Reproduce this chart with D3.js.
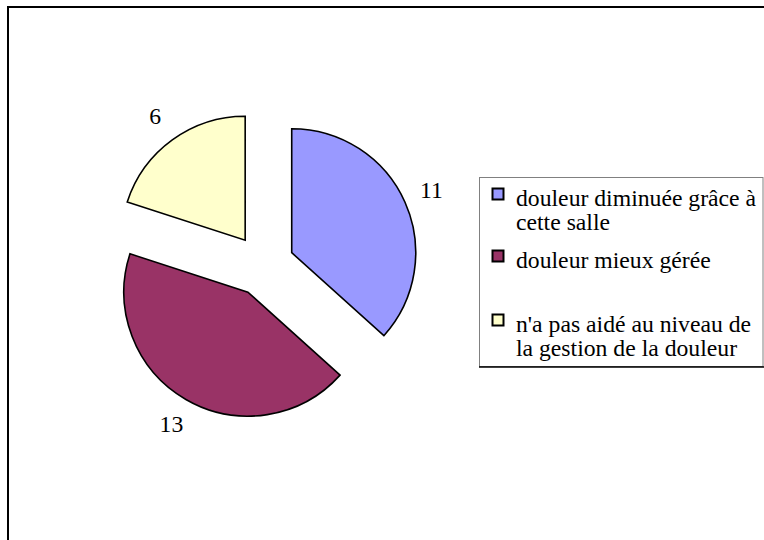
<!DOCTYPE html>
<html>
<head>
<meta charset="utf-8">
<script src="https://cdn.jsdelivr.net/npm/d3@7"></script>
<style>
  html, body { margin: 0; padding: 0; background: #ffffff; }
  svg { display: block; }
</style>
</head>
<body>
<svg id="chart" width="764" height="540"></svg>
<script>
// ---- Data ----
const categories = [
  "douleur diminuée grâce à cette salle",
  "douleur mieux gérée",
  "n'a pas aidé au niveau de la gestion de la douleur"
];
const values = [11, 13, 6];
const colors = ["#9999FF", "#993366", "#FFFFCC"];
const legendLines = [
  ["douleur diminuée grâce à", "cette salle"],
  ["douleur mieux gérée"],
  ["n'a pas aidé au niveau de", "la gestion de la douleur"]
];

// ---- Layout ----
const W = 764, H = 540;
const cx = 263.4, cy = 265.3, R = 124, explode = 31, labelR = 153;
const fontSize = 23.7;
const FONT = "'Times New Roman', 'Liberation Serif', Tinos, 'DejaVu Serif', serif";

const svg = d3.select("#chart");

// outer frame (right/bottom edges fall outside the view)
svg.append("rect")
  .attr("x", 8).attr("y", 7)
  .attr("width", 800).attr("height", 600)
  .attr("fill", "#fff")
  .attr("stroke", "#000").attr("stroke-width", 2);

const pie = d3.pie().sort(null).value(d => d).startAngle(0).endAngle(2 * Math.PI);
const arcs = pie(values);
const arc = d3.arc().innerRadius(0).outerRadius(R);

const g = svg.append("g").attr("transform", `translate(${cx},${cy})`);

const slices = g.selectAll("g.slice").data(arcs).enter().append("g")
  .attr("class", "slice")
  .attr("transform", d => {
    const a = (d.startAngle + d.endAngle) / 2;
    return `translate(${explode * Math.sin(a)},${-explode * Math.cos(a)})`;
  });

slices.append("path")
  .attr("d", arc)
  .attr("fill", (d, i) => colors[i])
  .attr("stroke", "#000")
  .attr("stroke-width", 1.6)
  .attr("stroke-linejoin", "miter");

slices.append("text")
  .attr("x", d => labelR * Math.sin((d.startAngle + d.endAngle) / 2))
  .attr("y", d => -labelR * Math.cos((d.startAngle + d.endAngle) / 2))
  .attr("dy", "0.3em")
  .attr("text-anchor", "middle")
  .attr("font-family", FONT)
  .attr("font-size", fontSize)
  .attr("fill", "#000")
  .text(d => d.data);

// ---- Legend ----
const lg = svg.append("g");
lg.append("rect")
  .attr("x", 479.5).attr("y", 177.5)
  .attr("width", 283.5).attr("height", 189)
  .attr("fill", "#fff")
  .attr("stroke", "#808080").attr("stroke-width", 1);
lg.append("line")
  .attr("x1", 479).attr("x2", 764)
  .attr("y1", 367).attr("y2", 367)
  .attr("stroke", "#000").attr("stroke-width", 1.5);

const rowBase = [206, 268, 332];
const lineH = 24;

const items = lg.selectAll("g.item").data(legendLines).enter().append("g").attr("class", "item");
items.append("rect")
  .attr("x", 492.5)
  .attr("y", (d, i) => rowBase[i] - 17.5)
  .attr("width", 11).attr("height", 11)
  .attr("fill", (d, i) => colors[i])
  .attr("stroke", "#000").attr("stroke-width", 2);
items.each(function(lines, i) {
  const t = d3.select(this).append("text")
    .attr("font-family", FONT)
    .attr("font-size", fontSize)
    .attr("fill", "#000");
  lines.forEach((ln, k) => {
    t.append("tspan").attr("x", 516).attr("y", rowBase[i] + k * lineH).text(ln);
  });
});
</script>
</body>
</html>
